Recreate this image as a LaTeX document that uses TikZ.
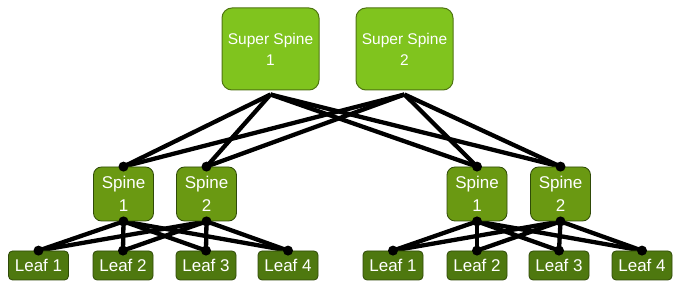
\documentclass[tikz,border=0pt]{standalone}
\usepackage{fontspec}
\setmainfont{Liberation Sans}
\usetikzlibrary{backgrounds}
\definecolor{ssfill}{HTML}{80C41E}
\definecolor{ssborder}{HTML}{4F7512}
\definecolor{spfill}{HTML}{6A9912}
\definecolor{lffill}{HTML}{4E780F}
\definecolor{dkborder}{HTML}{2F4A08}
\begin{document}
\begin{tikzpicture}[x=1pt,y=-1pt,
  ssbox/.style={draw=ssborder,line width=1pt,fill=ssfill,rounded corners=10pt,minimum width=97pt,minimum height=82pt,text=white,align=center,inner sep=0pt,font=\fontsize{15.5}{21}\selectfont},
  spbox/.style={draw=dkborder,line width=0.8pt,fill=spfill,rounded corners=8pt,minimum width=60pt,minimum height=54pt,text=white,align=center,inner sep=0pt,font=\fontsize{17}{23}\selectfont},
  lfbox/.style={draw=dkborder,line width=0.8pt,fill=lffill,rounded corners=4pt,minimum width=60pt,minimum height=29pt,text=white,align=center,inner sep=0pt,font=\fontsize{17}{21}\selectfont},
  link/.style={draw=black,line width=4.3pt},
  dot/.style={fill=black}]
\useasboundingbox (0,0) rectangle (681,291);
% super spines
\node[ssbox] (ss1) at (270.5,49) {Super Spine\\1};
\node[ssbox] (ss2) at (404.5,49) {Super Spine\\2};
% left pod
\node[spbox] (la) at (123.5,194) {Spine\\1};
\node[spbox] (lb) at (206.5,194) {Spine\\2};
\node[lfbox] (l1) at (38.5,265.5) {Leaf 1};
\node[lfbox] (l2) at (123,265.5) {Leaf 2};
\node[lfbox] (l3) at (206,265.5) {Leaf 3};
\node[lfbox] (l4) at (288,265.5) {Leaf 4};
% right pod
\node[spbox] (ra) at (477,194) {Spine\\1};
\node[spbox] (rb) at (560.5,194) {Spine\\2};
\node[lfbox] (r1) at (393,265.5) {Leaf 1};
\node[lfbox] (r2) at (477,265.5) {Leaf 2};
\node[lfbox] (r3) at (559,265.5) {Leaf 3};
\node[lfbox] (r4) at (642,265.5) {Leaf 4};
\begin{scope}[on background layer]
  \foreach \s in {ss1,ss2}
    \foreach \t in {la,lb,ra,rb}
      \draw[link] ([yshift=-4pt]\s.south) -- (\t.north);
  \foreach \s in {la,lb}
    \foreach \t in {l1,l2,l3,l4}
      \draw[link] (\s.south) -- (\t.north);
  \foreach \s in {ra,rb}
    \foreach \t in {r1,r2,r3,r4}
      \draw[link] (\s.south) -- (\t.north);
\end{scope}
\foreach \n in {la,lb,ra,rb}{
  \fill[dot] (\n.north) circle (5pt);
  \fill[dot] (\n.south) circle (5pt);
}
\foreach \n in {l1,l2,l3,l4,r1,r2,r3,r4}
  \fill[dot] (\n.north) circle (5pt);
\end{tikzpicture}
\end{document}
